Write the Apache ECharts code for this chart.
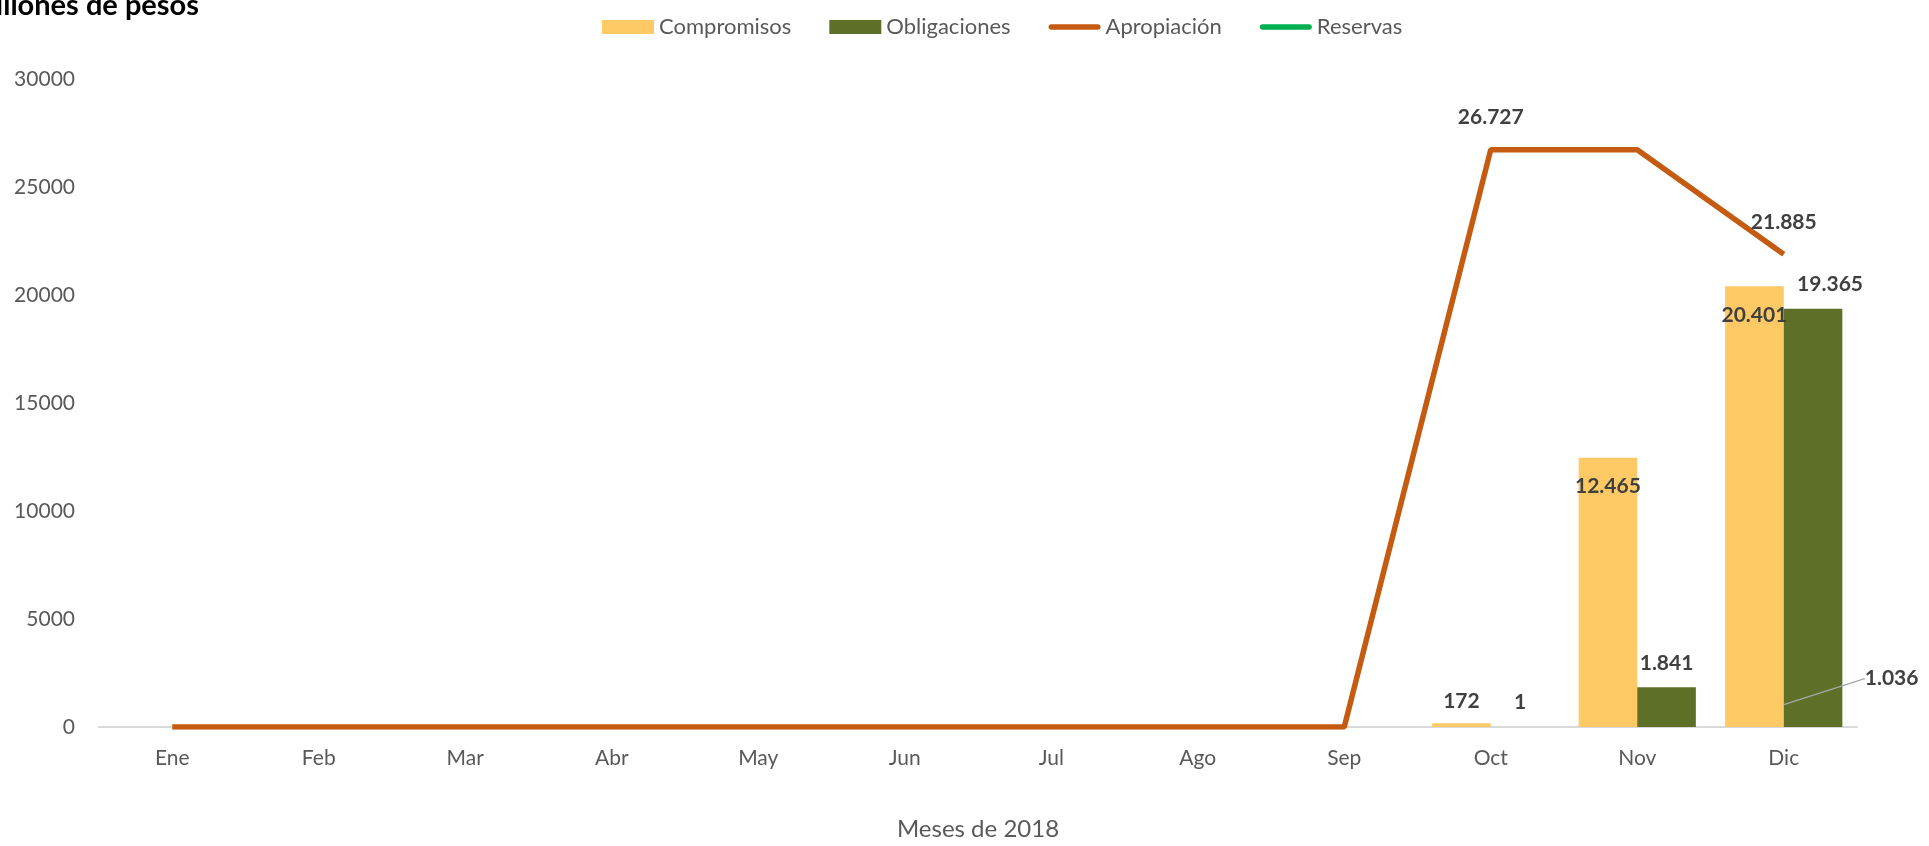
<!DOCTYPE html>
<html>
<head>
<meta charset="utf-8">
<script src="https://cdn.jsdelivr.net/npm/echarts@6/dist/echarts.min.js"></script>
<style>
html,body{margin:0;padding:0;background:#fff;overflow:hidden;}
#chart{width:1929px;height:846px;}
</style>
</head>
<body>
<div id="chart"></div>
<script>
const months = ['Ene','Feb','Mar','Abr','May','Jun','Jul','Ago','Sep','Oct','Nov','Dic'];
const compromisos = [null,null,null,null,null,null,null,null,null,172,12465,20401];
const obligaciones = [null,null,null,null,null,null,null,null,null,1,1841,19365];
const apropiacion = [0,0,0,0,0,0,0,0,0,26727,26727,21885];
const reservas = [null,null,null,null,null,null,null,null,null,null,null,1036];
const yTicks = [0,5000,10000,15000,20000,25000,30000];

const fmt = v => String(Math.round(v)).replace(/\B(?=(\d{3})+(?!\d))/g, '.');
const lblFont = {fontFamily:'Lato', fontWeight:'bold', fontSize:21, color:'#404040'};

const chart = echarts.init(document.getElementById('chart'));

const compData = compromisos.map((v,i) => {
  if (v == null) return v;
  return {value:v, label:{show:true, position: i===9 ? 'top' : 'insideTop', distance: i===9 ? 12 : 18}};
});
const obligData = obligaciones.map((v,i) => {
  if (v == null) return v;
  return {value:v, label:{show:true, position:'top', distance:14, offset: i===11 ? [17,0] : [0,0]}};
});
const apropData = apropiacion.map((v,i) => {
  if (i===9 || i===11) return {value:v, label:{show:true, position:'top', distance:22}};
  return v;
});
const lineIcon = 'path://M2.75,0 L49.25,0 A2.75,2.75 0 0 1 49.25,5.5 L2.75,5.5 A2.75,2.75 0 0 1 2.75,0 Z';

chart.setOption({
  animation:false,
  textStyle:{fontFamily:'Lato'},
  graphic:[{type:'text', x:199, y:6, style:{text:'Millones de pesos', align:'right', verticalAlign:'middle', font:'bold 29px Lato', fill:'#000'}}],
  legend:{
    left:597, top:11, itemWidth:52, itemHeight:14, itemGap:38,
    textStyle:{fontSize:22, color:'#595959', fontFamily:'Lato'},
    data:[
      {name:'Compromisos', icon:'rect'},
      {name:'Obligaciones', icon:'rect'},
      {name:'Apropiación', icon:lineIcon},
      {name:'Reservas', icon:lineIcon}
    ]
  },
  grid:{left:99, right:72, top:79, bottom:111, containLabel:false},
  xAxis:{
    type:'category', data:months,
    axisLine:{lineStyle:{color:'#D9D9D9', width:2}},
    axisTick:{show:false},
    axisLabel:{fontSize:21, color:'#595959', margin:21},
    name:'Meses de 2018', nameLocation:'middle', nameGap:90,
    nameTextStyle:{fontSize:24, color:'#595959'}
  },
  yAxis:{
    type:'value', min:0, max:30000, interval:5000,
    splitLine:{show:false}, axisLine:{show:false}, axisTick:{show:false},
    axisLabel:{fontSize:21, color:'#595959', margin:24, formatter: v => String(v)}
  },
  series:[
    {name:'Compromisos', type:'bar', data:compData, barGap:'0%', barCategoryGap:'20%',
     itemStyle:{color:'#FFCA66'},
     label:{formatter:p=>fmt(p.value), ...lblFont}},
    {name:'Obligaciones', type:'bar', data:obligData, barGap:'0%', barCategoryGap:'20%',
     itemStyle:{color:'#5E7028'},
     label:{formatter:p=>fmt(p.value), ...lblFont}},
    {name:'Apropiación', type:'line', data:apropData, symbol:'circle', symbolSize:0, showSymbol:true,
     lineStyle:{color:'#C55A11', width:5.5}, itemStyle:{color:'#C55A11'},
     label:{formatter:p=>fmt(p.value), ...lblFont}},
    {name:'Reservas', type:'line', data:reservas, symbol:'circle', symbolSize:0, showSymbol:true,
     lineStyle:{color:'#00B050', width:5.5}, itemStyle:{color:'#00B050'},
     label:{show:true, position:'right', distance:5, formatter:p=>fmt(p.value), ...lblFont, padding:[0,0,0,6]},
     labelLayout:{dx:70, dy:-26},
     labelLine:{show:true, length2:12, lineStyle:{color:'#A6A6A6', width:1.5}}}
  ]
});
</script>
</body>
</html>
